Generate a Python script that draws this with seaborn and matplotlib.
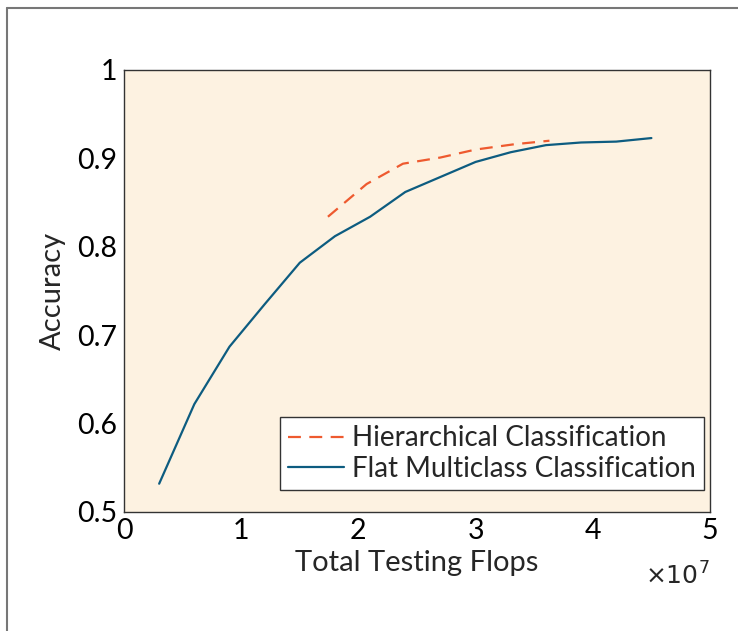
import matplotlib
matplotlib.use("Agg")
import matplotlib.pyplot as plt
import seaborn as sns
import pandas as pd
from matplotlib.lines import Line2D

# Data (x in units of 1e7 flops)
flat_flops = [0.3, 0.6, 0.9, 1.2, 1.5, 1.8, 2.1, 2.4, 2.7, 3.0, 3.3, 3.6, 3.9, 4.2, 4.5]
flat_acc = [0.532, 0.622, 0.687, 0.735, 0.782, 0.812, 0.834, 0.862, 0.879, 0.896, 0.907, 0.915, 0.918, 0.919, 0.923]
hier_flops = [1.74, 2.07, 2.38, 2.7, 3.0, 3.33, 3.63]
hier_acc = [0.834, 0.871, 0.894, 0.901, 0.910, 0.916, 0.920]
series_names = ["Hierarchical Classification", "Flat Multiclass Classification"]
x_ticks = [0, 1, 2, 3, 4, 5]
y_ticks = [0.5, 0.6, 0.7, 0.8, 0.9, 1.0]
y_tick_labels = ["0.5", "0.6", "0.7", "0.8", "0.9", "1"]

sns.set_theme(style="white")
plt.rcParams["font.family"] = ["Lato", "DejaVu Sans"]

df = pd.concat([
    pd.DataFrame({"flops": hier_flops, "acc": hier_acc, "method": series_names[0]}),
    pd.DataFrame({"flops": flat_flops, "acc": flat_acc, "method": series_names[1]}),
], ignore_index=True)

fig = plt.figure(figsize=(7.38, 6.31), dpi=100)
ax = fig.add_axes([124 / 738, 1 - 512 / 631, (710 - 124) / 738, (512 - 70) / 631])
ax.set_facecolor("#FDF2E1")

palette = {series_names[0]: "#EE5A2F", series_names[1]: "#0D5C80"}
dashes = {series_names[0]: (5.8, 3.8), series_names[1]: ""}
sns.lineplot(data=df, x="flops", y="acc", hue="method", style="method",
             palette=palette, dashes=dashes, linewidth=1.6, ax=ax,
             hue_order=series_names, style_order=series_names, sort=False)

ax.set_xlim(0, 5)
ax.set_ylim(0.5, 1.0)
ax.set_xticks(x_ticks)
ax.set_xticklabels([str(t) for t in x_ticks])
ax.set_yticks(y_ticks)
ax.set_yticklabels(y_tick_labels)
ax.tick_params(axis="both", direction="in", length=6, width=1, colors="#333333",
               labelcolor="black", labelsize=20.5)
ax.tick_params(axis="x", pad=4.5)
ax.tick_params(axis="y", pad=5)
for s in ax.spines.values():
    s.set_color("#333333")
    s.set_linewidth(1.0)
    s.set_visible(True)

ax.set_xlabel("Total Testing Flops", fontsize=21, labelpad=4)
ax.set_ylabel("Accuracy", fontsize=21, labelpad=8)
ax.text(1.0, -0.115, r"$\times10^{7}$", transform=ax.transAxes, ha="right", va="top",
        fontsize=18, family="DejaVu Sans")

leg = ax.legend(loc="lower right", bbox_to_anchor=(0.99, 0.05), fontsize=20,
                frameon=True, fancybox=False, framealpha=1, edgecolor="#333333",
                handlelength=2.0, handletextpad=0.3, borderpad=0.3,
                labelspacing=0.15, borderaxespad=0)
leg.get_frame().set_linewidth(1.0)

# figure border (screenshot frame)
fig.add_artist(Line2D([7 / 738, 7 / 738], [0, 1 - 8 / 631], transform=fig.transFigure,
                      color="#777777", linewidth=1.5))
fig.add_artist(Line2D([7 / 738, 1], [1 - 8 / 631, 1 - 8 / 631], transform=fig.transFigure,
                      color="#777777", linewidth=1.5))

fig.savefig("out.png", dpi=100)
